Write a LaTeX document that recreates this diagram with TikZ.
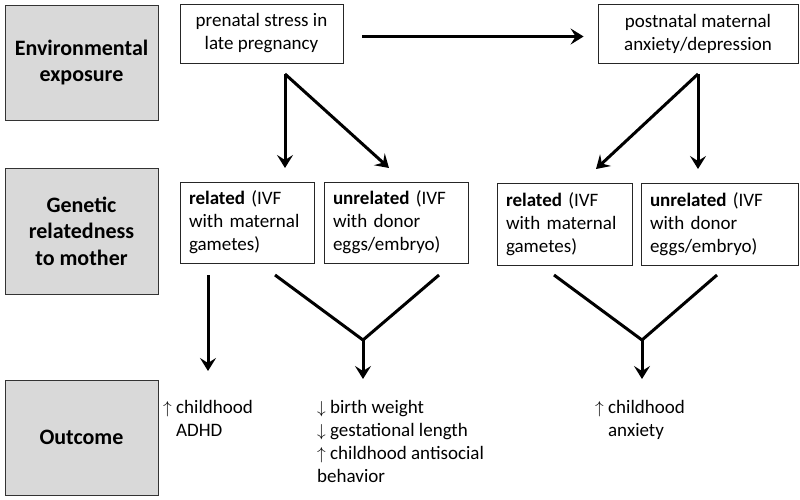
\documentclass[tikz,border=0pt]{standalone}
\usepackage{fontspec}
\setmainfont{Carlito}
\usetikzlibrary{arrows.meta}
\definecolor{labelgray}{HTML}{D9D9D9}
\hyphenpenalty=10000
\begin{document}
\begin{tikzpicture}[x=1pt, y=1pt,
    rowlabel/.style={draw=black!80, fill=labelgray, line width=0.8pt, minimum width=153pt, align=center, font=\fontsize{22}{26.5}\selectfont\bfseries},
    box/.style={draw=black!85, line width=0.8pt, inner xsep=9pt, inner ysep=0pt, font=\fontsize{19}{23}\selectfont},
    result/.style={anchor=north west, inner sep=0pt, align=left, font=\fontsize{19}{23}\selectfont},
    arr/.style={-{Stealth[length=13pt, width=16pt, inset=5pt]}, line width=3pt},
    stem/.style={line width=3pt}]
    \useasboundingbox (0,0) rectangle (800,-500);
    \node[rowlabel, minimum height=115pt] (env) at (81.5,-62.5) {Environmental\\exposure};
    \node[rowlabel, minimum height=126pt] (gen) at (81.5,-231) {Genetic\\relatedness\\to mother};
    \node[rowlabel, minimum height=115pt] (out) at (81.5,-437.5) {Outcome};
    \node[box, minimum width=163pt, minimum height=59pt, align=center] (pre) at (261.5,-33.5) {prenatal stress in\\late pregnancy};
    \node[box, minimum width=200pt, minimum height=59pt, align=center] (post) at (698,-33.5) {postnatal maternal\\anxiety/depression};
    \node[box, minimum height=81pt, text width=116pt, align=left] (relL) at (247,-222.5) {\textbf{related} (IVF\\with maternal\\gametes)};
    \node[box, minimum height=81pt, text width=126pt, align=left] (unrL) at (396,-222.5) {\textbf{unrelated} (IVF\\with donor\\eggs/embryo)};
    \node[box, minimum height=82pt, text width=117pt, align=left] (relR) at (564.5,-224) {\textbf{related} (IVF\\with maternal\\gametes)};
    \node[box, minimum height=82pt, text width=139pt, align=left] (unrR) at (719.5,-224) {\textbf{unrelated} (IVF\\with donor\\eggs/embryo)};
    \node[result] (adhd) at (163,-400) {$\uparrow$ childhood\\\phantom{$\uparrow$} ADHD};
    \node[result] (birth) at (317,-400) {$\downarrow$ birth weight\\$\downarrow$ gestational length\\$\uparrow$ childhood antisocial\\behavior};
    \node[result] (anx) at (595,-400) {$\uparrow$ childhood\\\phantom{$\uparrow$} anxiety};
    \coordinate (preSplit) at (285,-74);
    \coordinate (postSplit) at (698,-74);
    \coordinate (preL) at (285,-168);
    \coordinate (preR) at (389,-168);
    \coordinate (postL) at (596,-169);
    \coordinate (postR) at (698,-169);
    \coordinate (adhdTop) at (208,-275);
    \coordinate (adhdTip) at (208,-371);
    \coordinate (vLa) at (275,-275);
    \coordinate (vLb) at (439,-275);
    \coordinate (mergeL) at (363,-340);
    \coordinate (birthTip) at (363,-379);
    \coordinate (vRa) at (554,-275);
    \coordinate (vRb) at (717,-275);
    \coordinate (mergeR) at (642,-340);
    \coordinate (anxTip) at (642,-379);
    \draw[arr, shorten <=19pt, shorten >=14pt] ([yshift=-3pt]pre.east) -- ([yshift=-3pt]post.west);
    \draw[arr] (preSplit) -- (preL);
    \draw[arr] (preSplit) -- (preR);
    \draw[arr] (postSplit) -- (postL);
    \draw[arr] (postSplit) -- (postR);
    \draw[arr] (adhdTop) -- (adhdTip);
    \draw[stem] (vLa) -- (mergeL) -- (vLb);
    \draw[arr] (mergeL) -- (birthTip);
    \draw[stem] (vRa) -- (mergeR) -- (vRb);
    \draw[arr] (mergeR) -- (anxTip);
\end{tikzpicture}
\end{document}
